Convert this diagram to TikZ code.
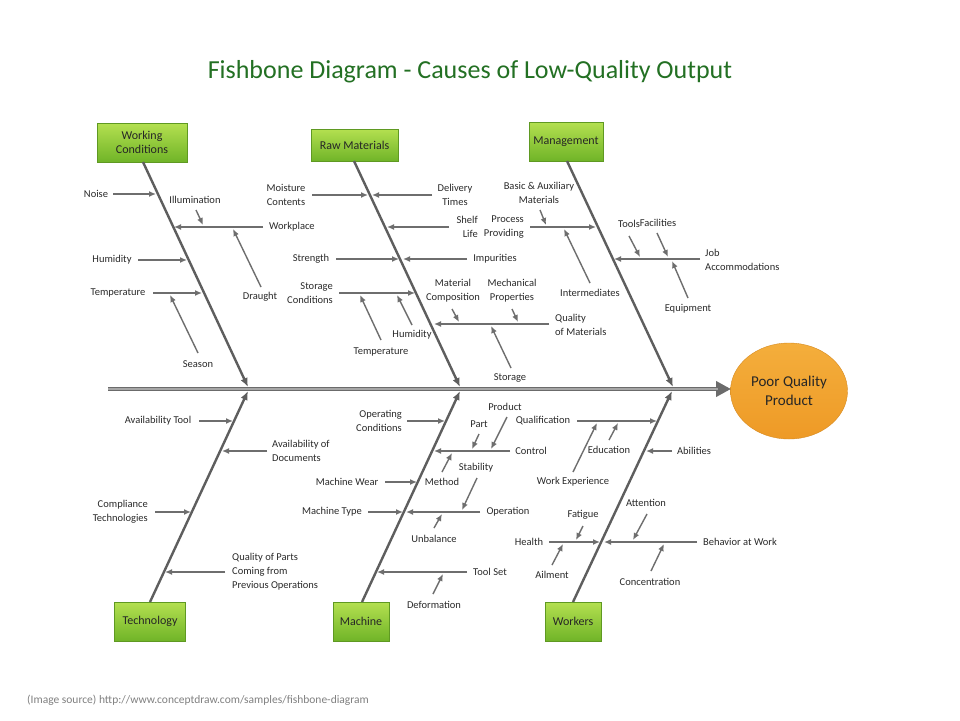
\documentclass[tikz,border=0pt]{standalone}
\usepackage{fontspec}
\setmainfont{Carlito}
\usetikzlibrary{arrows.meta,shapes.geometric}
\definecolor{txt}{HTML}{2A2A2A}
\definecolor{ttl}{HTML}{237023}
\definecolor{bonec}{HTML}{5E5E5E}
\definecolor{arrc}{HTML}{6E6E6E}
\definecolor{gtop}{HTML}{B4E050}
\definecolor{gbot}{HTML}{70B428}
\definecolor{otop}{HTML}{F4AE3C}
\definecolor{obot}{HTML}{EE9A26}
\newcommand{\causearr}[3]{\coordinate (#1-s) at #2; \coordinate (#1-e) at #3; \draw[causearrow] (#1-s) -- (#1-e);}
\begin{document}
\begin{tikzpicture}[x=1pt,y=-1pt,
  lbl/.style={font=\fontsize{10.5}{14}\selectfont, text=txt, inner sep=0pt, align=center},
  catbox/.style={rectangle, top color=gtop, bottom color=gbot, draw=gbot!85!black, line width=0.4pt,
     font=\fontsize{12}{14.5}\selectfont, text=black!85, align=center, inner sep=0pt},
  causearrow/.style={draw=arrc, line width=1.4pt, -{Latex[length=7pt,width=6pt]}},
  bonearrow/.style={draw=bonec, line width=2.4pt, -{Latex[length=9pt,width=7.5pt]}},
]
\useasboundingbox (0,0) rectangle (960,720);
\fill[white] (0,0) rectangle (960,720);

% title and source
\node[font=\fontsize{26}{30}\selectfont, text=ttl, inner sep=0pt] (title) at (470,72) {Fishbone Diagram - Causes of Low-Quality Output};
\node[font=\fontsize{11.5}{13}\selectfont, text=black!50, inner sep=0pt, anchor=west] (src) at (27,700) {(Image source) http://www.conceptdraw.com/samples/fishbone-diagram};

% effect
\node[ellipse, top color=otop, bottom color=obot, draw=obot!90!black, line width=0.4pt, minimum width=117pt, minimum height=96pt,
  font=\fontsize{15}{18.5}\selectfont, text=black!85, align=center, inner sep=0pt] (effect) at (789,391) {Poor Quality\\Product};

% spine
\coordinate (sp-s) at (108,389);
\coordinate (sp-e) at (731,389);
\draw[draw=black!58, line width=4.6pt, -{Triangle[length=15pt,width=15pt]}] (sp-s) -- (sp-e);
\draw[draw=black!35, line width=1.2pt] (sp-s) -- (718,389);

% category boxes
\node[catbox, minimum width=90pt, minimum height=39pt] (wc) at (142,142.5) {Working\\Conditions};
\node[catbox, minimum width=87pt, minimum height=32pt] (raw) at (354.5,145) {Raw Materials};
\node[catbox, minimum width=74pt, minimum height=39pt] (mgmt) at (566,141.5) {Management};
\node[catbox, minimum width=71pt, minimum height=39pt] (tech) at (150,621.5) {Technology};
\node[catbox, minimum width=56pt, minimum height=39pt] (mach) at (361,621.5) {Machine};
\node[catbox, minimum width=56pt, minimum height=39pt] (work) at (573,621.5) {Workers};

% bones
\coordinate (wc-b) at (143,162);   \coordinate (wc-t) at (248,387);
\coordinate (raw-b) at (354,161);  \coordinate (raw-t) at (460,387);
\coordinate (mgmt-b) at (567,161); \coordinate (mgmt-t) at (673,387);
\coordinate (tech-b) at (150,602); \coordinate (tech-t) at (248,391);
\coordinate (mach-b) at (362,602); \coordinate (mach-t) at (460,391);
\coordinate (work-b) at (573,602); \coordinate (work-t) at (672,391);
\foreach \b in {wc,raw,mgmt,tech,mach,work} {\draw[bonearrow] (\b-b) -- (\b-t);}

% ---- Working Conditions
\node[lbl] (noise) at (96,194) {Noise};
\node[lbl] (illum) at (195,200) {Illumination};
\node[lbl, anchor=west] (workpl) at (269,227) {Workplace};
\node[lbl] (draught) at (260,297) {Draught};
\node[lbl] (humid1) at (112,260) {Humidity};
\node[lbl] (temp1) at (118,293) {Temperature};
\node[lbl] (season) at (198,364) {Season};
\causearr{noiseA}{(113,194)}{(156,194)}
\causearr{workA}{(263,227)}{(174,227)}
\causearr{illumA}{(196,210)}{(203,225)}
\causearr{draughtA}{(261,287)}{(233,229)}
\causearr{humid1A}{(138,260)}{(187,260)}
\causearr{temp1A}{(153,293)}{(202,293)}
\causearr{seasonA}{(198,353)}{(170,295)}

% ---- Raw Materials
\node[lbl] (moist) at (286,195) {Moisture\\Contents};
\node[lbl] (deliv) at (455,195) {Delivery\\Times};
\node[lbl, align=right, anchor=east] (shelf) at (478,227) {Shelf\\Life};
\node[lbl] (strength) at (311,259) {Strength};
\node[lbl] (impur) at (495,259) {Impurities};
\node[lbl, align=right, anchor=east] (storcond) at (333,293) {Storage\\Conditions};
\node[lbl] (temp2) at (381,352) {Temperature};
\node[lbl] (humid2) at (412,335) {Humidity};
\node[lbl] (matcomp) at (453,291) {Material\\Composition};
\node[lbl] (mechprop) at (512,291) {Mechanical\\Properties};
\node[lbl, align=left, anchor=west] (qualmat) at (555,325) {Quality\\of Materials};
\node[lbl] (storage) at (510,378) {Storage};
\causearr{moistA}{(312,195)}{(368,195)}
\causearr{delivA}{(432,195)}{(372,195)}
\causearr{shelfA}{(449,227)}{(387,227)}
\causearr{strengthA}{(336,259)}{(399,259)}
\causearr{impurA}{(467,259)}{(403,259)}
\causearr{storcondA}{(339,293)}{(415,293)}
\causearr{temp2A}{(381,340)}{(360,295)}
\causearr{humid2A}{(412,325)}{(397,295)}
\causearr{qualmatA}{(549,324)}{(434,324)}
\causearr{matcompA}{(452,309)}{(459,322)}
\causearr{mechpropA}{(512,309)}{(518,322)}
\causearr{storageA}{(511,368)}{(491,326)}

% ---- Management
\node[lbl] (basic) at (539,193) {Basic \& Auxiliary\\Materials};
\node[lbl, align=right, anchor=east] (process) at (524,227) {Process\\Providing};
\node[lbl] (intermed) at (590,293) {Intermediates};
\node[lbl] (tools) at (629,224) {Tools};
\node[lbl] (facil) at (658,223) {Facilities};
\node[lbl, align=left, anchor=west] (job) at (705,260) {Job\\Accommodations};
\node[lbl] (equip) at (688,309) {Equipment};
\causearr{basicA}{(540,210)}{(546,225)}
\causearr{processA}{(530,227)}{(596,227)}
\causearr{intermedA}{(590,283)}{(564,229)}
\causearr{toolsA}{(629,236)}{(640,257)}
\causearr{facilA}{(657,233)}{(668,257)}
\causearr{jobA}{(700,259)}{(614,259)}
\causearr{equipA}{(688,298)}{(672,261)}

% ---- Technology
\node[lbl] (availtool) at (158,421) {Availability Tool};
\node[lbl, align=left, anchor=west] (availdoc) at (272,451) {Availability of\\Documents};
\node[lbl, align=right, anchor=east] (compl) at (148,512) {Compliance\\Technologies};
\node[lbl, align=left, anchor=west] (qualparts) at (232,572) {Quality of Parts\\Coming from\\Previous Operations};
\causearr{availtoolA}{(199,421)}{(233,421)}
\causearr{availdocA}{(267,451)}{(222,451)}
\causearr{complA}{(155,512)}{(191,512)}
\causearr{qualpartsA}{(225,572)}{(165,572)}

% ---- Machine
\node[lbl, align=right, anchor=east] (opcond) at (402,421) {Operating\\Conditions};
\node[lbl] (part) at (479,424) {Part};
\node[lbl] (product) at (505,407) {Product};
\node[lbl] (qualif) at (543,421) {Qualification};
\node[lbl] (control) at (531,451) {Control};
\node[lbl] (method) at (442,482) {Method};
\node[lbl] (mwear) at (347,482) {Machine Wear};
\node[lbl] (stab) at (476,468) {Stability};
\node[lbl] (mtype) at (332,512) {Machine Type};
\node[lbl] (oper) at (508,512) {Operation};
\node[lbl] (unbal) at (434,539) {Unbalance};
\node[lbl] (toolset) at (490,572) {Tool Set};
\node[lbl] (deform) at (434,605) {Deformation};
\causearr{opcondA}{(407,421)}{(445,421)}
\causearr{partA}{(479,434)}{(472,449)}
\causearr{productA}{(507,417)}{(491,449)}
\causearr{controlA}{(510,451)}{(434,451)}
\causearr{methodA}{(442,472)}{(452,453)}
\causearr{mwearA}{(385,482)}{(417,482)}
\causearr{stabA}{(477,478)}{(462,510)}
\causearr{mtypeA}{(368,512)}{(403,512)}
\causearr{operA}{(480,512)}{(406,512)}
\causearr{unbalA}{(434,528)}{(442,514)}
\causearr{toolsetA}{(467,572)}{(377,572)}
\causearr{deformA}{(433,594)}{(443,574)}

% ---- Workers
\node[lbl] (educ) at (609,450) {Education};
\node[lbl] (workexp) at (573,482) {Work Experience};
\node[lbl] (abil) at (694,451) {Abilities};
\node[lbl] (atten) at (646,503) {Attention};
\node[lbl] (fatig) at (583,515) {Fatigue};
\node[lbl] (health) at (529,542) {Health};
\node[lbl] (behav) at (740,542) {Behavior at Work};
\node[lbl] (ailm) at (552,575) {Ailment};
\node[lbl] (conc) at (650,582) {Concentration};
\causearr{qualifA}{(577,421)}{(657,421)}
\causearr{educA}{(609,440)}{(618,423)}
\causearr{workexpA}{(573,472)}{(597,423)}
\causearr{abilA}{(672,451)}{(646,451)}
\causearr{attenA}{(647,514)}{(633,540)}
\causearr{fatigA}{(583,526)}{(576,540)}
\causearr{healthA}{(549,542)}{(600,542)}
\causearr{behavA}{(697,542)}{(604,542)}
\causearr{ailmA}{(552,565)}{(563,544)}
\causearr{concA}{(651,571)}{(664,544)}
\end{tikzpicture}
\end{document}
